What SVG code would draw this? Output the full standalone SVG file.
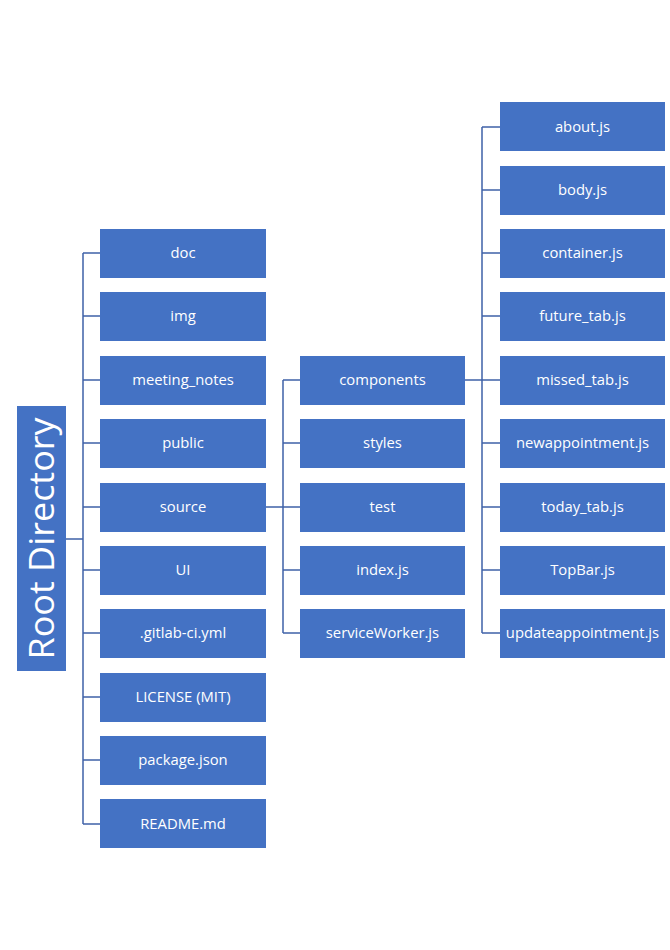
<svg xmlns="http://www.w3.org/2000/svg" width="670" height="950" viewBox="0 0 670 950">
<style>
.b{fill:#4472C4}
.t{fill:#fff;font-family:"Open Sans","Liberation Sans",sans-serif;font-size:14.8px;text-anchor:middle;dominant-baseline:central}
.c{stroke:#3F62A8;stroke-width:1.5;fill:none}
</style>
<rect width="670" height="950" fill="#fff"/>
<g id="connectors">
<path class="c" d="M66 539H83M83 253V824M83 253H100M83 316H100M83 380H100M83 443H100M83 507H100M83 570H100M83 633H100M83 697H100M83 760H100M83 824H100"/>
<path class="c" d="M266 507H283M283 380V633M283 380H300M283 443H300M283 507H300M283 570H300M283 633H300"/>
<path class="c" d="M465 380H482M482 127V633M482 127H500M482 190H500M482 253H500M482 316H500M482 380H500M482 443H500M482 507H500M482 570H500M482 633H500"/>
</g>
<g id="root"><rect class="b" x="17" y="406" width="49" height="265"/><text class="t" transform="translate(40.5 538.5) rotate(-90)" style="font-size:34px" textLength="242" lengthAdjust="spacingAndGlyphs">Root Directory</text></g>
<g id="doc"><rect class="b" x="100" y="229" width="166" height="49"/><text class="t" x="183" y="252">doc</text></g>
<g id="img"><rect class="b" x="100" y="292" width="166" height="49"/><text class="t" x="183" y="315">img</text></g>
<g id="meeting_notes"><rect class="b" x="100" y="356" width="166" height="49"/><text class="t" x="183" y="379">meeting_notes</text></g>
<g id="public"><rect class="b" x="100" y="419" width="166" height="49"/><text class="t" x="183" y="442">public</text></g>
<g id="source"><rect class="b" x="100" y="483" width="166" height="49"/><text class="t" x="183" y="506">source</text></g>
<g id="UI"><rect class="b" x="100" y="546" width="166" height="49"/><text class="t" x="183" y="569">UI</text></g>
<g id="gitlab"><rect class="b" x="100" y="609" width="166" height="49"/><text class="t" x="183" y="632">.gitlab-ci.yml</text></g>
<g id="license"><rect class="b" x="100" y="673" width="166" height="49"/><text class="t" x="183" y="696">LICENSE (MIT)</text></g>
<g id="package"><rect class="b" x="100" y="736" width="166" height="49"/><text class="t" x="183" y="759">package.json</text></g>
<g id="readme"><rect class="b" x="100" y="799" width="166" height="49"/><text class="t" x="183" y="823">README.md</text></g>
<g id="components"><rect class="b" x="300" y="356" width="165" height="49"/><text class="t" x="382.5" y="379">components</text></g>
<g id="styles"><rect class="b" x="300" y="419" width="165" height="49"/><text class="t" x="382.5" y="442">styles</text></g>
<g id="test"><rect class="b" x="300" y="483" width="165" height="49"/><text class="t" x="382.5" y="506">test</text></g>
<g id="index"><rect class="b" x="300" y="546" width="165" height="49"/><text class="t" x="382.5" y="569">index.js</text></g>
<g id="serviceWorker"><rect class="b" x="300" y="609" width="165" height="49"/><text class="t" x="382.5" y="632">serviceWorker.js</text></g>
<g id="about"><rect class="b" x="500" y="102" width="165" height="49"/><text class="t" x="582.5" y="126">about.js</text></g>
<g id="body"><rect class="b" x="500" y="166" width="165" height="49"/><text class="t" x="582.5" y="189">body.js</text></g>
<g id="container"><rect class="b" x="500" y="229" width="165" height="49"/><text class="t" x="582.5" y="252">container.js</text></g>
<g id="future_tab"><rect class="b" x="500" y="292" width="165" height="49"/><text class="t" x="582.5" y="315">future_tab.js</text></g>
<g id="missed_tab"><rect class="b" x="500" y="356" width="165" height="49"/><text class="t" x="582.5" y="379">missed_tab.js</text></g>
<g id="newappointment"><rect class="b" x="500" y="419" width="165" height="49"/><text class="t" x="582.5" y="442">newappointment.js</text></g>
<g id="today_tab"><rect class="b" x="500" y="483" width="165" height="49"/><text class="t" x="582.5" y="506">today_tab.js</text></g>
<g id="TopBar"><rect class="b" x="500" y="546" width="165" height="49"/><text class="t" x="582.5" y="569">TopBar.js</text></g>
<g id="updateappointment"><rect class="b" x="500" y="609" width="165" height="49"/><text class="t" x="582.5" y="632">updateappointment.js</text></g>
</svg>
